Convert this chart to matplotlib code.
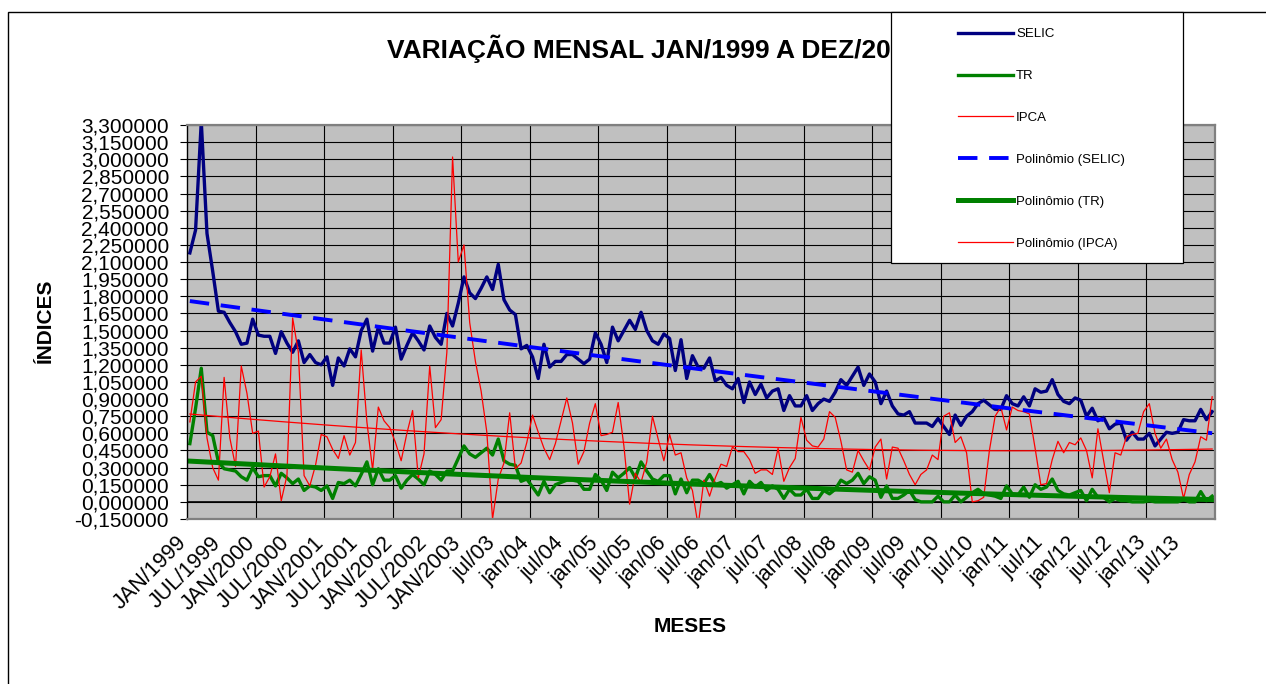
import numpy as np
import matplotlib.pyplot as plt
from matplotlib.patches import Rectangle
from matplotlib.transforms import ScaledTranslation

# tick labels (one every 6 months)
meses = ["JAN/1999", "JUL/1999", "JAN/2000", "JUL/2000", "JAN/2001", "JUL/2001",
         "JAN/2002", "JUL/2002", "JAN/2003", "jul/03", "jan/04", "jul/04",
         "jan/05", "jul/05", "jan/06", "jul/06", "jan/07", "jul/07",
         "jan/08", "jul/08", "jan/09", "jul/09", "jan/10", "jul/10",
         "jan/11", "jul/11", "jan/12", "jul/12", "jan/13", "jul/13"]

# monthly values jan/1999 .. dez/2013
selic = [2.18, 2.38, 3.33, 2.35, 2.02, 1.67, 1.66, 1.57, 1.49, 1.38, 1.39, 1.60,
         1.46, 1.45, 1.45, 1.30, 1.49, 1.39, 1.31, 1.41, 1.22, 1.29, 1.22, 1.20,
         1.27, 1.02, 1.26, 1.19, 1.34, 1.27, 1.50, 1.60, 1.32, 1.53, 1.39, 1.39,
         1.53, 1.25, 1.37, 1.48, 1.41, 1.33, 1.54, 1.44, 1.38, 1.65, 1.54, 1.74,
         1.97, 1.83, 1.78, 1.87, 1.97, 1.86, 2.08, 1.77, 1.68, 1.64, 1.34, 1.37,
         1.27, 1.08, 1.38, 1.18, 1.23, 1.23, 1.29, 1.29, 1.25, 1.21, 1.25, 1.48,
         1.38, 1.22, 1.53, 1.41, 1.50, 1.59, 1.51, 1.66, 1.50, 1.41, 1.38, 1.47,
         1.43, 1.15, 1.42, 1.08, 1.28, 1.18, 1.17, 1.26, 1.06, 1.09, 1.02, 0.99,
         1.08, 0.87, 1.05, 0.94, 1.03, 0.91, 0.97, 0.99, 0.80, 0.93, 0.84, 0.84,
         0.93, 0.80, 0.86, 0.90, 0.88, 0.96, 1.07, 1.02, 1.10, 1.18, 1.02, 1.12,
         1.05, 0.86, 0.97, 0.84, 0.77, 0.76, 0.79, 0.69, 0.69, 0.69, 0.66, 0.73,
         0.66, 0.59, 0.76, 0.67, 0.75, 0.79, 0.86, 0.89, 0.85, 0.81, 0.81, 0.93,
         0.86, 0.84, 0.92, 0.84, 0.99, 0.96, 0.97, 1.07, 0.94, 0.88, 0.86, 0.91,
         0.89, 0.75, 0.82, 0.71, 0.74, 0.64, 0.68, 0.69, 0.54, 0.61, 0.55, 0.55,
         0.60, 0.49, 0.55, 0.61, 0.60, 0.61, 0.72, 0.71, 0.71, 0.81, 0.72, 0.79]

tr = [0.51, 0.82, 1.17, 0.61, 0.58, 0.35, 0.29, 0.28, 0.27, 0.22, 0.19, 0.30,
      0.22, 0.23, 0.23, 0.14, 0.25, 0.21, 0.16, 0.20, 0.10, 0.14, 0.13, 0.10,
      0.14, 0.03, 0.17, 0.16, 0.19, 0.14, 0.24, 0.35, 0.15, 0.29, 0.19, 0.19,
      0.23, 0.12, 0.19, 0.24, 0.20, 0.15, 0.27, 0.24, 0.19, 0.27, 0.27, 0.38,
      0.49, 0.42, 0.39, 0.43, 0.47, 0.41, 0.55, 0.36, 0.33, 0.32, 0.18, 0.20,
      0.13, 0.06, 0.18, 0.08, 0.15, 0.17, 0.19, 0.19, 0.18, 0.11, 0.11, 0.24,
      0.19, 0.10, 0.26, 0.21, 0.25, 0.30, 0.21, 0.35, 0.27, 0.20, 0.18, 0.23,
      0.23, 0.07, 0.20, 0.08, 0.19, 0.19, 0.16, 0.24, 0.15, 0.17, 0.12, 0.15,
      0.18, 0.07, 0.18, 0.13, 0.17, 0.10, 0.14, 0.11, 0.03, 0.11, 0.06, 0.06,
      0.11, 0.03, 0.03, 0.10, 0.07, 0.11, 0.19, 0.16, 0.19, 0.25, 0.16, 0.22,
      0.19, 0.04, 0.14, 0.03, 0.03, 0.06, 0.10, 0.02, 0.00, 0.00, 0.00, 0.05,
      0.00, 0.00, 0.06, 0.00, 0.04, 0.08, 0.11, 0.07, 0.06, 0.05, 0.03, 0.14,
      0.07, 0.06, 0.13, 0.04, 0.15, 0.11, 0.13, 0.20, 0.10, 0.07, 0.06, 0.08,
      0.10, 0.01, 0.11, 0.04, 0.04, 0.00, 0.03, 0.01, 0.01, 0.00, 0.00, 0.00,
      0.01, 0.00, 0.00, 0.00, 0.00, 0.00, 0.02, 0.00, 0.00, 0.09, 0.01, 0.05]

ipca = [0.70, 1.05, 1.10, 0.56, 0.30, 0.19, 1.09, 0.56, 0.31, 1.19, 0.95, 0.60,
        0.62, 0.13, 0.22, 0.42, 0.01, 0.23, 1.61, 1.31, 0.23, 0.14, 0.32, 0.59,
        0.57, 0.46, 0.38, 0.58, 0.41, 0.52, 1.33, 0.70, 0.28, 0.83, 0.71, 0.65,
        0.52, 0.36, 0.60, 0.80, 0.21, 0.42, 1.19, 0.65, 0.72, 1.31, 3.02, 2.10,
        2.25, 1.57, 1.23, 0.97, 0.61, -0.15, 0.20, 0.34, 0.78, 0.29, 0.34, 0.52,
        0.76, 0.61, 0.47, 0.37, 0.51, 0.71, 0.91, 0.69, 0.33, 0.44, 0.69, 0.86,
        0.58, 0.59, 0.61, 0.87, 0.49, -0.02, 0.25, 0.17, 0.35, 0.75, 0.55, 0.36,
        0.59, 0.41, 0.43, 0.21, 0.10, -0.21, 0.19, 0.05, 0.21, 0.33, 0.31, 0.48,
        0.44, 0.44, 0.37, 0.25, 0.28, 0.28, 0.24, 0.47, 0.18, 0.30, 0.38, 0.74,
        0.54, 0.49, 0.48, 0.55, 0.79, 0.74, 0.53, 0.28, 0.26, 0.45, 0.36, 0.28,
        0.48, 0.55, 0.20, 0.48, 0.47, 0.36, 0.24, 0.15, 0.24, 0.28, 0.41, 0.37,
        0.75, 0.78, 0.52, 0.57, 0.43, 0.00, 0.01, 0.04, 0.45, 0.75, 0.83, 0.63,
        0.83, 0.80, 0.79, 0.77, 0.47, 0.15, 0.16, 0.37, 0.53, 0.43, 0.52, 0.50,
        0.56, 0.45, 0.21, 0.64, 0.36, 0.08, 0.43, 0.41, 0.57, 0.59, 0.60, 0.79,
        0.86, 0.60, 0.47, 0.55, 0.37, 0.26, 0.03, 0.24, 0.35, 0.57, 0.54, 0.92]

plt.rcParams['font.family'] = ['Liberation Sans', 'DejaVu Sans']

W, H = 1266, 684
x = np.arange(len(selic))

fig = plt.figure(figsize=(W / 100, H / 100), dpi=100)
ax = fig.add_axes([187 / W, 1 - 519 / H, 1028 / W, 394 / H])
ax.set_facecolor("#c0c0c0")

ax.plot(x, selic, color="#000080", lw=2.4, label="SELIC")
ax.plot(x, tr, color="#008000", lw=2.4, label="TR")
ax.plot(x, ipca, color="#ff0000", lw=0.9, label="IPCA")

# polynomial (order 2) trendlines, as excel does it
def trend(y):
    c = np.polyfit(x + 1, y, 2)
    return np.polyval(c, x + 1)

ax.plot(x, trend(selic), color="#0000ff", lw=2.8, dashes=(5, 3),
        label="Polinômio (SELIC)")
ax.plot(x, trend(tr), color="#008000", lw=3.6, label="Polinômio (TR)")
ax.plot(x, trend(ipca), color="#ff0000", lw=0.9, label="Polinômio (IPCA)")

ax.axhline(0, color="black", lw=1.2, zorder=1.6)

# axes
ax.set_xlim(-0.5, len(selic) - 0.5)
ax.set_ylim(-0.15, 3.3)
yt = np.arange(-0.15, 3.31, 0.15)
ax.set_yticks(yt)
ax.set_yticklabels([f"{round(v, 2) + 0.0:.6f}".replace(".", ",") for v in yt])
ax.set_xticks(np.arange(0, len(selic), 6))
ax.set_xticklabels(meses, rotation=45, ha="right", va="center",
                   rotation_mode="anchor")
ax.set_xticks(np.arange(11.5, len(selic) - 1, 12), minor=True)
ax.tick_params(axis="y", direction="out", length=5, width=0.8, color="black",
               labelsize=15, pad=8)
ax.tick_params(axis="x", which="both", length=0, labelsize=15.5, pad=15)
shift = ScaledTranslation(-6 / 100, 0, fig.dpi_scale_trans)
for lbl in ax.get_xticklabels():
    lbl.set_transform(lbl.get_transform() + shift)

ax.grid(axis="y", color="black", lw=0.8)
ax.grid(axis="x", which="minor", color="black", lw=0.8)

for s in ["top", "right", "bottom"]:
    ax.spines[s].set_color("#808080")
    ax.spines[s].set_linewidth(1.6)
ax.spines["left"].set_color("black")
ax.spines["left"].set_linewidth(1.0)

# texts
fig.text(654 / W, 1 - 49 / H, "VARIAÇÃO MENSAL JAN/1999 A DEZ/2013",
         ha="center", va="center", fontsize=19, fontweight="bold")
fig.text(45 / W, 1 - 321 / H, "ÍNDICES", rotation=90, ha="center",
         va="center", fontsize=15, fontweight="bold")
fig.text(690 / W, 1 - 627 / H, "MESES", ha="center", va="center",
         fontsize=15, fontweight="bold")

# chart border and legend box
fig.add_artist(Rectangle((8 / W, -0.1), 1.2, 1 - 12 / H + 0.1, fill=False,
                         edgecolor="black", lw=1.0, transform=fig.transFigure,
                         zorder=1))
fig.add_artist(Rectangle((891 / W, 1 - 263 / H), 292 / W, 251 / H,
                         facecolor="white", edgecolor="black", lw=0.9,
                         transform=fig.transFigure, zorder=4))
fig.legend(loc="upper left", bbox_to_anchor=(958 / W, 1 - 28 / H),
           frameon=False, borderpad=0, borderaxespad=0, handlelength=4.2,
           handletextpad=0.2, labelspacing=2.25, fontsize=9.5)

fig.savefig("out.png", dpi=100)
plt.close(fig)
